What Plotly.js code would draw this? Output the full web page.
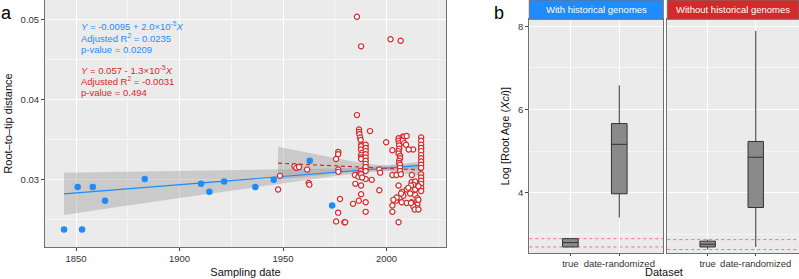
<!DOCTYPE html>
<html>
<head>
<meta charset="utf-8">
<script src="https://cdn.plot.ly/plotly-3.0.1.min.js"></script>
<style>html,body{margin:0;padding:0;background:#fff;}#chart{width:799px;height:279px;}</style>
</head>
<body>
<div id="chart"></div>
<script>
// ---------- Panel a data ----------
const blueYear = [1844.2, 1850.8, 1852.9, 1858.1, 1864.0, 1883.2, 1910.4, 1914.4, 1921.5, 1936.6, 1945.5, 1962.9, 1973.7];
const blueDist = [0.0238, 0.0291, 0.0238, 0.0291, 0.0274, 0.0301, 0.0295, 0.0285, 0.0298, 0.0291, 0.0300, 0.0324, 0.0268];

const redYear = [
 1985.7, 1987.7, 2001.9, 2006.8, 1985.7, 1948.5, 1947.6, 1955.5, 1956.4, 1957.7,
 1961.6, 1962.4, 1962.7, 1976.7, 1976.6, 1975.6, 1976.7, 1976.7, 1977.5, 1976.6,
 1975.6, 1979.6, 1980.0, 1983.8, 1984.9, 1984.7, 1986.4, 1986.6, 1986.7, 1986.7,
 1986.9, 1987.2, 1987.5, 1987.7, 1987.7, 1987.7, 1988.2, 1987.7, 1987.7, 1987.7,
 1987.5, 1987.2, 1987.7, 1987.7, 1987.7, 1989.9, 1989.9, 1989.9, 1989.9, 1989.9,
 1989.9, 1989.9, 1989.9, 1989.9, 1989.9, 1989.9, 1989.9, 1988.2, 1992.0, 1992.8,
 1996.5, 1996.9, 1996.5, 1999.8, 2005.8, 2005.8, 2006.1, 2006.1, 2006.1, 2005.8,
 2005.8, 2006.5, 2006.5, 2006.1, 2006.1, 2006.5, 2006.5, 2006.5, 2005.8, 2005.8,
 2007.8, 2008.5, 2009.7, 2007.8, 2008.5, 2009.4, 2002.8, 2012.8, 2002.8, 2004.8,
 2006.9, 2012.2, 2012.1, 2016.7, 2016.7, 2016.7, 2016.7, 2016.7, 2016.7, 2016.7,
 2016.7, 2016.7, 2016.7, 2016.7, 2016.7, 2016.7, 2016.7, 2016.7, 2016.7, 2013.8,
 2009.7, 2007.5, 2005.7, 2004.6, 2006.5, 2008.1, 2011.4, 2013.8, 2014.9, 2014.9,
 2014.9, 2014.6, 2009.7, 2012.1, 2012.9, 2013.6, 2002.8, 2002.8, 2014.6, 2013.8,
 2015.4, 2012.9, 2011.8, 2010.5, 2007.0, 2004.9, 2003.3, 2007.3, 2011.8, 2015.4,
 2015.4, 2010.7
];
const redDist = [
 0.0504, 0.0467, 0.0476, 0.0474, 0.0381, 0.0305, 0.0288, 0.0317, 0.0315, 0.0316,
 0.0313, 0.0296, 0.0294, 0.0335, 0.0332, 0.0326, 0.0313, 0.0310, 0.0276, 0.0259,
 0.0248, 0.0247, 0.0247, 0.0270, 0.0295, 0.0306, 0.0304, 0.0274, 0.0363, 0.0360,
 0.0357, 0.0353, 0.0350, 0.0344, 0.0342, 0.0338, 0.0334, 0.0331, 0.0328, 0.0326,
 0.0311, 0.0308, 0.0307, 0.0293, 0.0282, 0.0344, 0.0340, 0.0336, 0.0332, 0.0328,
 0.0324, 0.0320, 0.0316, 0.0311, 0.0301, 0.0272, 0.0260, 0.0303, 0.0361, 0.0300,
 0.0313, 0.0309, 0.0287, 0.0347, 0.0352, 0.0349, 0.0346, 0.0343, 0.0339, 0.0336,
 0.0333, 0.0330, 0.0327, 0.0324, 0.0321, 0.0319, 0.0315, 0.0311, 0.0293, 0.0247,
 0.0354, 0.0354, 0.0355, 0.0349, 0.0346, 0.0344, 0.0337, 0.0338, 0.0306, 0.0306,
 0.0307, 0.0306, 0.0297, 0.0353, 0.0349, 0.0344, 0.0340, 0.0336, 0.0331, 0.0327,
 0.0323, 0.0319, 0.0315, 0.0307, 0.0303, 0.0299, 0.0295, 0.0290, 0.0286, 0.0288,
 0.0288, 0.0285, 0.0275, 0.0274, 0.0278, 0.0280, 0.0283, 0.0281, 0.0277, 0.0273,
 0.0269, 0.0265, 0.0271, 0.0272, 0.0267, 0.0263, 0.0268, 0.0260, 0.0294, 0.0298,
 0.0292, 0.0294, 0.0293, 0.0290, 0.0283, 0.0278, 0.0275, 0.0272, 0.0271, 0.0275,
 0.0263, 0.0338
];

const blueFitYear = [1844.2, 2016.8];
const blueFitDist = [0.02825, 0.0318];
const redFitYear = [1947.6, 2016.8];
const redFitDist = [0.03209, 0.03125];

const blueBandYear  = [1844.2, 1870, 1900, 1925, 1950, 1975, 1995, 2016.8];
const blueBandUpper = [0.0309, 0.0310, 0.03108, 0.03118, 0.03127, 0.03141, 0.03166, 0.0323];
const blueBandLower = [0.0256, 0.02659, 0.02772, 0.02866, 0.02959, 0.03049, 0.03106, 0.03132];

const redBandYear  = [1947.6, 1960, 1975, 1990, 2000, 2008, 2016.8];
const redBandUpper = [0.03414, 0.03348, 0.03274, 0.03202, 0.03176, 0.03186, 0.03205];
const redBandLower = [0.03004, 0.0304, 0.03078, 0.03114, 0.03116, 0.03086, 0.03045];

const xTicksA = [1850, 1900, 1950, 2000];
const yTicksA = [0.03, 0.04, 0.05];

// ---------- Panel b data ----------
const datasets = ['true', 'date-randomized'];
const facetNames = ['With historical genomes', 'Without historical genomes'];
const withQ1   = [2.69, 3.97];
const withMed  = [2.795, 5.16];
const withQ3   = [2.89, 5.66];
const withLow  = [2.69, 3.40];
const withHigh = [2.89, 6.58];
const withoutQ1   = [2.69, 3.64];
const withoutMed  = [2.755, 4.85];
const withoutQ3   = [2.83, 5.23];
const withoutLow  = [2.63, 2.69];
const withoutHigh = [2.87, 7.89];
const withRefLines = [2.69, 2.89];
const withoutRefLines = [2.627, 2.867];
const yTicksB = [4, 6, 8];

// ---------- styling ----------
const BLUE = '#1E8BFF';
const RED = '#D42A2A';
const FONT = 'Liberation Sans, Arial, sans-serif';
const FRAME = '#707070';
const REFLINE = 'rgba(240,70,70,0.9)';

function bandPolygon(xs, up, lo) {
  return { x: xs.concat(xs.slice().reverse()), y: up.concat(lo.slice().reverse()) };
}
const bb = bandPolygon(blueBandYear, blueBandUpper, blueBandLower);
const rb = bandPolygon(redBandYear, redBandUpper, redBandLower);

const traces = [
  {x: bb.x, y: bb.y, type: 'scatter', mode: 'lines', fill: 'toself', fillcolor: 'rgba(153,153,153,0.4)', line: {width: 0}, xaxis: 'x', yaxis: 'y', hoverinfo: 'skip'},
  {x: rb.x, y: rb.y, type: 'scatter', mode: 'lines', fill: 'toself', fillcolor: 'rgba(153,153,153,0.4)', line: {width: 0}, xaxis: 'x', yaxis: 'y', hoverinfo: 'skip'},
  {x: blueFitYear, y: blueFitDist, type: 'scatter', mode: 'lines', line: {color: BLUE, width: 1.2}, xaxis: 'x', yaxis: 'y'},
  {x: redFitYear, y: redFitDist, type: 'scatter', mode: 'lines', line: {color: RED, width: 1.2, dash: '4px,3px'}, xaxis: 'x', yaxis: 'y'},
  {x: redYear, y: redDist, type: 'scatter', mode: 'markers', marker: {size: 5.2, color: 'white', line: {color: RED, width: 1.2}}, xaxis: 'x', yaxis: 'y'},
  {x: blueYear, y: blueDist, type: 'scatter', mode: 'markers', marker: {size: 6.5, color: BLUE}, xaxis: 'x', yaxis: 'y'},
  {type: 'box', x: datasets, q1: withQ1, median: withMed, q3: withQ3, lowerfence: withLow, upperfence: withHigh,
   fillcolor: '#8a8a8a', line: {color: '#333', width: 1}, whiskerwidth: 0, width: 0.32, boxpoints: false, xaxis: 'x2', yaxis: 'y2'},
  {type: 'box', x: datasets, q1: withoutQ1, median: withoutMed, q3: withoutQ3, lowerfence: withoutLow, upperfence: withoutHigh,
   fillcolor: '#8a8a8a', line: {color: '#333', width: 1}, whiskerwidth: 0, width: 0.32, boxpoints: false, xaxis: 'x3', yaxis: 'y3'}
];

const tickFont = {family: FONT, size: 9.5, color: '#333'};
const titleFont = {family: FONT, size: 11, color: '#111'};
function baseAxis(extra) {
  return Object.assign({
    showline: true, mirror: true, linecolor: FRAME, linewidth: 1,
    ticks: 'outside', ticklen: 3, tickcolor: '#444', tickwidth: 1,
    showgrid: true, gridcolor: '#ffffff', gridwidth: 1, zeroline: false,
    tickfont: tickFont, fixedrange: true
  }, extra);
}

// geometry: plot area 754 x 253 (margins l45 b26)
const bA = [0, 0.5318];
const bB1 = [0.6423, 0.8200];
const bB2 = [0.8253, 1.0];

const layout = {
  width: 799, height: 279,
  margin: {l: 45, r: 0, t: 0, b: 26, pad: 0},
  paper_bgcolor: '#ffffff', plot_bgcolor: '#ebebeb',
  showlegend: false, hovermode: false,
  font: {family: FONT},
  xaxis: baseAxis({domain: bA, anchor: 'y', range: [1835, 2028.7], tickvals: xTicksA,
    minor: {tickvals: [1875, 1925, 1975, 2025], showgrid: true, gridcolor: '#ffffff', gridwidth: 0.5, ticks: ''},
    title: {text: 'Sampling date', font: titleFont, standoff: 4}}),
  yaxis: baseAxis({domain: [0.0237, 1], anchor: 'x', range: [0.0216, 0.0525], tickvals: yTicksA,
    minor: {tickvals: [0.025, 0.035, 0.045], showgrid: true, gridcolor: '#ffffff', gridwidth: 0.5, ticks: ''},
    title: {text: 'Root–to–tip distance', font: titleFont, standoff: 5}}),
  xaxis2: baseAxis({domain: bB1, anchor: 'y2', type: 'category', range: [-0.84, 1.9], ticklen: 2}),
  yaxis2: baseAxis({domain: [0, 0.9237], anchor: 'x2', range: [2.545, 8.17], tickvals: yTicksB,
    minor: {tickvals: [3, 5, 7], showgrid: true, gridcolor: '#ffffff', gridwidth: 0.5, ticks: ''},
    title: {text: 'Log [Root Age (<i>Xci</i>)]', font: titleFont, standoff: 6}}),
  xaxis3: baseAxis({domain: bB2, anchor: 'y3', type: 'category', range: [-0.84, 1.9], ticklen: 2}),
  yaxis3: baseAxis({domain: [0, 0.9237], anchor: 'x3', range: [2.545, 8.17], tickvals: yTicksB, showticklabels: false, ticks: '',
    minor: {tickvals: [3, 5, 7], showgrid: true, gridcolor: '#ffffff', gridwidth: 0.5, ticks: ''}}),
  shapes: [
    {type: 'rect', xref: 'paper', yref: 'paper', x0: bB1[0], x1: bB1[1], y0: 0.9237, y1: 1.0, fillcolor: BLUE, line: {color: FRAME, width: 1}, layer: 'above'},
    {type: 'rect', xref: 'paper', yref: 'paper', x0: bB2[0], x1: bB2[1], y0: 0.9237, y1: 1.0, fillcolor: RED, line: {color: FRAME, width: 1}, layer: 'above'},
    {type: 'line', xref: 'x2 domain', yref: 'y2', x0: 0, x1: 1, y0: withRefLines[0], y1: withRefLines[0], line: {color: REFLINE, width: 0.8, dash: 'dot'}, layer: 'below'},
    {type: 'line', xref: 'x2 domain', yref: 'y2', x0: 0, x1: 1, y0: withRefLines[1], y1: withRefLines[1], line: {color: REFLINE, width: 0.8, dash: 'dot'}, layer: 'below'},
    {type: 'line', xref: 'x3 domain', yref: 'y3', x0: 0, x1: 1, y0: withoutRefLines[0], y1: withoutRefLines[0], line: {color: REFLINE, width: 0.8, dash: 'dot'}, layer: 'below'},
    {type: 'line', xref: 'x3 domain', yref: 'y3', x0: 0, x1: 1, y0: withoutRefLines[1], y1: withoutRefLines[1], line: {color: REFLINE, width: 0.8, dash: 'dot'}, layer: 'below'}
  ],
  annotations: [
    {text: 'a', xref: 'paper', yref: 'paper', x: -0.0517, y: 0.9486, showarrow: false, font: {family: FONT, size: 18, color: '#000'}, xanchor: 'center', yanchor: 'middle'},
    {text: 'b', xref: 'paper', yref: 'paper', x: 0.6021, y: 0.9486, showarrow: false, font: {family: FONT, size: 18, color: '#000'}, xanchor: 'center', yanchor: 'middle'},
    {text: '<i>Y</i> = -0.0095 + 2.0×10<sup>-5</sup><i>X</i>', xref: 'paper', yref: 'paper', x: 0.0451, y: 0.8984, showarrow: false, xanchor: 'left', yanchor: 'middle', font: {family: FONT, size: 9.5, color: BLUE}},
    {text: 'Adjusted R<sup>2</sup> = 0.0235', xref: 'paper', yref: 'paper', x: 0.0451, y: 0.8510, showarrow: false, xanchor: 'left', yanchor: 'middle', font: {family: FONT, size: 9.5, color: BLUE}},
    {text: 'p-value = 0.0209', xref: 'paper', yref: 'paper', x: 0.0451, y: 0.8036, showarrow: false, xanchor: 'left', yanchor: 'middle', font: {family: FONT, size: 9.5, color: BLUE}},
    {text: '<i>Y</i> = 0.057 - 1.3×10<sup>-5</sup><i>X</i>', xref: 'paper', yref: 'paper', x: 0.0451, y: 0.7245, showarrow: false, xanchor: 'left', yanchor: 'middle', font: {family: FONT, size: 9.5, color: RED}},
    {text: 'Adjusted R<sup>2</sup> = -0.0031', xref: 'paper', yref: 'paper', x: 0.0451, y: 0.6787, showarrow: false, xanchor: 'left', yanchor: 'middle', font: {family: FONT, size: 9.5, color: RED}},
    {text: 'p-value = 0.494', xref: 'paper', yref: 'paper', x: 0.0451, y: 0.6336, showarrow: false, xanchor: 'left', yanchor: 'middle', font: {family: FONT, size: 9.5, color: RED}},
    {text: facetNames[0], xref: 'paper', yref: 'paper', x: (bB1[0] + bB1[1]) / 2, y: 0.9618, showarrow: false, xanchor: 'center', yanchor: 'middle', font: {family: FONT, size: 9.5, color: '#ffffff'}},
    {text: facetNames[1], xref: 'paper', yref: 'paper', x: (bB2[0] + bB2[1]) / 2, y: 0.9618, showarrow: false, xanchor: 'center', yanchor: 'middle', font: {family: FONT, size: 9.5, color: '#ffffff'}},
    {text: 'Dataset', xref: 'paper', yref: 'paper', x: (bB1[0] + bB2[1]) / 2, y: -0.077, showarrow: false, xanchor: 'center', yanchor: 'middle', font: titleFont}
  ]
};

Plotly.newPlot('chart', traces, layout, {displayModeBar: false, staticPlot: true});
</script>
</body>
</html>
